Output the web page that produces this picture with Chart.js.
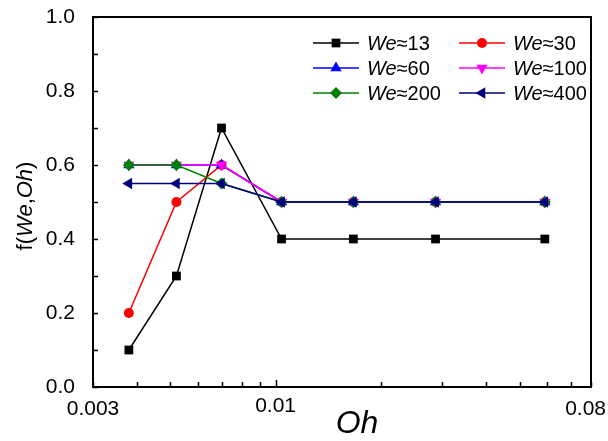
<!DOCTYPE html>
<html>
<head>
<meta charset="utf-8">
<script src="https://cdn.jsdelivr.net/npm/chart.js"></script>
<style>
  body { margin: 0; background: #fff; }
  #wrap { width: 608px; height: 441px; }
</style>
</head>
<body>
<div id="wrap"><canvas id="fChart" width="608" height="441"></canvas></div>
<script>
// Oh (x, log) and f(We,Oh) per series
const ohValues = [0.0038, 0.0052, 0.0070, 0.0104, 0.0167, 0.0287, 0.059];
const we13  = [0.1, 0.3, 0.7, 0.4, 0.4, 0.4, 0.4];
const we30  = [0.2, 0.5, 0.6, 0.5, 0.5, 0.5, 0.5];
const we60  = [0.6, 0.6, 0.6, 0.5, 0.5, 0.5, 0.5];
const we100 = [0.6, 0.6, 0.6, 0.5, 0.5, 0.5, 0.5];
const we200 = [0.6, 0.6, 0.55, 0.5, 0.5, 0.5, 0.5];
const we400 = [0.55, 0.55, 0.55, 0.5, 0.5, 0.5, 0.5];
const seriesNames = ['13', '30', '60', '100', '200', '400'];

const xTickValues = [0.003, 0.004, 0.005, 0.006, 0.007, 0.008, 0.009, 0.01,
                     0.02, 0.03, 0.04, 0.05, 0.06, 0.07, 0.08];
const xTickLabels = [0.003, 0.01, 0.08];
const yTickValues = [0, 0.1, 0.2, 0.3, 0.4, 0.5, 0.6, 0.7, 0.8, 0.9, 1.0];

const FONT = '"Liberation Sans", Arial, sans-serif';

function pts(ys) {
    return ohValues.map((x, i) => ({ x: x, y: ys[i] }));
}

const styles = [
    { color: '#000000', pointStyle: 'rect',     radius: 6.2, rotation: 0 },
    { color: '#ff0000', pointStyle: 'circle',   radius: 5,   rotation: 0 },
    { color: '#0000ff', pointStyle: 'triangle', radius: 6.5, rotation: 0 },
    { color: '#ff00ff', pointStyle: 'triangle', radius: 6.5, rotation: 180 },
    { color: '#008000', pointStyle: 'rectRot',  radius: 6,   rotation: 0 },
    { color: '#000080', pointStyle: 'triangle', radius: 6.5, rotation: 270 }
];
const allSeries = [we13, we30, we60, we100, we200, we400];

const datasets = allSeries.map((ys, i) => ({
    label: 'We≈' + seriesNames[i],
    data: pts(ys),
    borderColor: styles[i].color,
    backgroundColor: styles[i].color,
    borderWidth: 1.5,
    pointStyle: styles[i].pointStyle,
    pointRadius: styles[i].radius,
    pointRotation: styles[i].rotation,
    pointBorderWidth: 0,
    tension: 0,
    order: allSeries.length - i
}));

// tick hướng vào trong, khung, nhãn x, legend và tiêu đề trục
const decorPlugin = {
    id: 'decor',
    afterDatasetsDraw(chart) {
        const ctx = chart.ctx;
        const a = chart.chartArea;
        const xs = chart.scales.x;
        const ys = chart.scales.y;
        ctx.save();
        ctx.strokeStyle = '#000';
        ctx.lineWidth = 1.5;
        ctx.beginPath();
        xTickValues.forEach(v => {
            const px = Math.round(xs.getPixelForValue(v)) + 0.5;
            const len = (v === 0.01) ? 7 : 5;
            ctx.moveTo(px, a.bottom);
            ctx.lineTo(px, a.bottom - len);
        });
        yTickValues.forEach(v => {
            const py = Math.round(ys.getPixelForValue(v)) + 0.5;
            ctx.moveTo(a.left, py);
            ctx.lineTo(a.left + 5, py);
        });
        ctx.stroke();

        ctx.lineWidth = 2;
        ctx.strokeRect(a.left, a.top, a.right - a.left, a.bottom - a.top);

        // nhãn trục x (giữ trong khung canvas)
        ctx.fillStyle = '#000';
        ctx.textAlign = 'center';
        ctx.textBaseline = 'middle';
        ctx.font = '21px ' + FONT;
        xTickLabels.forEach(v => {
            const txt = String(v);
            const w = ctx.measureText(txt).width;
            let px = xs.getPixelForValue(v);
            px = Math.min(px, chart.width - w / 2 - 2);
            const py = (v === 0.01) ? a.bottom + 19 : a.bottom + 22;
            ctx.fillText(txt, px, py);
        });

        // legend 2 cột x 3 hàng
        const colX = [313, 459];
        const rowY = [43, 68, 93];
        ctx.textAlign = 'left';
        datasets.forEach((ds, i) => {
            const x0 = colX[i % 2];
            const y0 = rowY[Math.floor(i / 2)];
            ctx.strokeStyle = ds.borderColor;
            ctx.lineWidth = 1.5;
            ctx.beginPath();
            ctx.moveTo(x0, y0);
            ctx.lineTo(x0 + 46, y0);
            ctx.stroke();
            ctx.fillStyle = ds.backgroundColor;
            Chart.helpers.drawPoint(ctx, {
                pointStyle: ds.pointStyle,
                radius: ds.pointRadius,
                rotation: ds.pointRotation,
                borderWidth: 0
            }, x0 + 23, y0);
            ctx.fillStyle = '#000';
            ctx.font = 'italic 20px ' + FONT;
            ctx.fillText('We', x0 + 54, y0 + 1);
            const w = ctx.measureText('We').width;
            ctx.font = '20px ' + FONT;
            ctx.fillText('≈' + seriesNames[i], x0 + 54 + w, y0 + 1);
        });

        // tiêu đề trục x
        ctx.fillStyle = '#000';
        ctx.textAlign = 'center';
        ctx.font = 'italic 32px ' + FONT;
        ctx.fillText('Oh', 357, 424);

        // tiêu đề trục y: f(We,Oh)
        const parts = [['f(', ''], ['We', 'italic '], [',', ''], ['Oh', 'italic '], [')', '']];
        ctx.translate(26, 206);
        ctx.rotate(-Math.PI / 2);
        let total = 0;
        parts.forEach(p => { ctx.font = p[1] + '22px ' + FONT; total += ctx.measureText(p[0]).width; });
        let cx = -total / 2;
        ctx.textAlign = 'left';
        parts.forEach(p => {
            ctx.font = p[1] + '22px ' + FONT;
            ctx.fillText(p[0], cx, 0);
            cx += ctx.measureText(p[0]).width;
        });
        ctx.restore();
    }
};

new Chart(document.getElementById('fChart'), {
    type: 'line',
    data: { datasets: datasets },
    options: {
        responsive: false,
        animation: false,
        layout: { padding: { top: 17, right: 17, left: 0, bottom: 0 } },
        plugins: {
            legend: { display: false },
            tooltip: { enabled: false }
        },
        scales: {
            x: {
                type: 'logarithmic',
                min: 0.003,
                max: 0.08,
                grid: { display: false },
                border: { display: false },
                afterBuildTicks(axis) {
                    axis.ticks = xTickValues.map(v => ({ value: v }));
                },
                afterFit(axis) {
                    axis.height = 54;
                    axis.paddingLeft = 0;
                    axis.paddingRight = 0;
                },
                ticks: { display: false }
            },
            y: {
                min: 0,
                max: 1,
                grid: { display: false },
                border: { display: false },
                afterFit(axis) {
                    axis.width = 93;
                    axis.paddingTop = 0;
                    axis.paddingBottom = 0;
                },
                ticks: {
                    stepSize: 0.2,
                    padding: 10,
                    color: '#000',
                    font: { family: FONT, size: 21 },
                    callback: v => v.toFixed(1)
                }
            }
        }
    },
    plugins: [decorPlugin]
});
</script>
</body>
</html>
